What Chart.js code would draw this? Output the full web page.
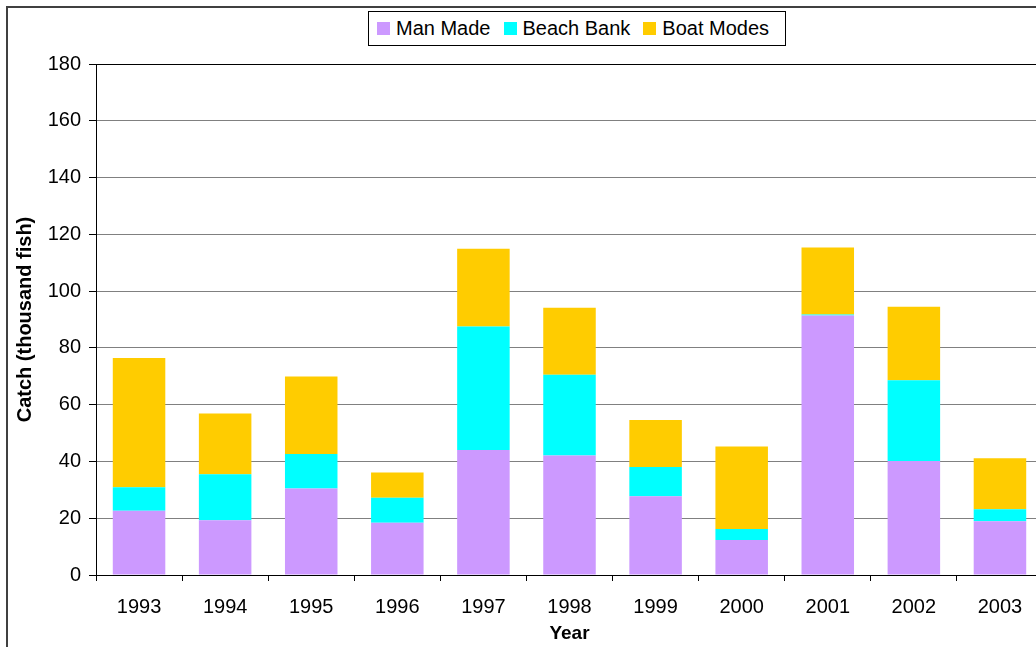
<!DOCTYPE html>
<html>
<head>
<meta charset="utf-8">
<script src="https://cdn.jsdelivr.net/npm/chart.js@4/dist/chart.umd.min.js"></script>
<style>
  html, body { margin: 0; padding: 0; background: #fff; overflow: hidden; width: 1036px; height: 647px; }
  #frame { position: absolute; left: 6px; top: 6px; width: 1100px; height: 700px; border: 2px solid #404040; box-sizing: border-box; pointer-events: none; }
  #wrap { position: absolute; left: 0; top: 0; width: 1043px; height: 647px; }
  #legend { position: absolute; left: 368px; top: 11px; width: 418px; height: 35px; box-sizing: border-box; border: 1px solid #000; background: #fff;
            display: flex; align-items: center; padding-left: 8px; font-family: "Liberation Sans", Arial, sans-serif; font-size: 20px; color: #000; }
  .item { display: flex; align-items: center; margin-right: 13px; white-space: nowrap; }
  .sw { width: 13px; height: 13px; margin-right: 6px; }
</style>
</head>
<body>
<div id="wrap"><canvas id="c"></canvas></div>
<div id="frame"></div>
<div id="legend"></div>
<script>
const years = ['1993','1994','1995','1996','1997','1998','1999','2000','2001','2002','2003'];
const manMade   = [22.6, 19.3, 30.5, 18.4, 44.0, 42.1, 27.7, 12.3, 91.4, 40.2, 18.9];
const beachBank = [ 8.3, 16.2, 12.1,  8.8, 43.5, 28.4, 10.3,  3.9,  0.4, 28.4,  4.3];
const boatModes = [45.5, 21.4, 27.3,  8.9, 27.4, 23.6, 16.6, 29.1, 23.6, 25.9, 17.9];
const seriesNames = ['Man Made', 'Beach Bank', 'Boat Modes'];
const seriesColors = ['#CC99FF', '#00FFFF', '#FFCC00'];
const yTicks = [0, 20, 40, 60, 80, 100, 120, 140, 160, 180];

const FONT = '"Liberation Sans", Arial, sans-serif';

// HTML legend
const leg = document.getElementById('legend');
seriesNames.forEach((n, i) => {
  const it = document.createElement('div'); it.className = 'item';
  const sw = document.createElement('div'); sw.className = 'sw'; sw.style.background = seriesColors[i];
  const tx = document.createElement('span'); tx.textContent = n;
  it.appendChild(sw); it.appendChild(tx); leg.appendChild(it);
});

const seriesData = [manMade, beachBank, boatModes];
new Chart(document.getElementById('c'), {
  type: 'bar',
  data: {
    labels: years,
    datasets: seriesNames.map((n, i) => ({
      label: n,
      data: seriesData[i],
      backgroundColor: seriesColors[i],
      borderWidth: 0,
      stack: 's',
      categoryPercentage: 1.0,
      barPercentage: 0.61
    }))
  },
  options: {
    responsive: true,
    maintainAspectRatio: false,
    animation: false,
    layout: { padding: { top: 64, left: 0, right: 0, bottom: 0 } },
    plugins: { legend: { display: false }, tooltip: { enabled: false } },
    scales: {
      x: {
        stacked: true,
        afterFit: s => { s.height = 72; },
        grid: { offset: true, drawOnChartArea: false, drawTicks: true, tickLength: 6, tickColor: '#000', color: '#000' },
        border: { color: '#000', width: 1 },
        ticks: { color: '#000', font: { family: FONT, size: 20 }, padding: 14, maxRotation: 0 },
        title: { display: true, text: 'Year', color: '#000', font: { family: FONT, size: 19, weight: 'bold' }, padding: { top: 0, bottom: 2 } }
      },
      y: {
        stacked: true,
        min: 0, max: 180,
        afterFit: s => { s.width = 96; },
        afterBuildTicks: s => { s.ticks = yTicks.map(v => ({ value: v })); },
        grid: {
          color: ctx => (ctx.tick && (ctx.tick.value === 180)) ? '#000' : '#808080',
          lineWidth: 1,
          tickLength: 7,
          tickColor: '#000'
        },
        border: { color: '#000', width: 1 },
        ticks: { color: '#000', font: { family: FONT, size: 20 }, padding: 8 },
        title: { display: true, text: 'Catch (thousand fish)', color: '#000', font: { family: FONT, size: 20, weight: 'bold' }, padding: { top: 13, bottom: 0 } }
      }
    }
  }
});
</script>
</body>
</html>
